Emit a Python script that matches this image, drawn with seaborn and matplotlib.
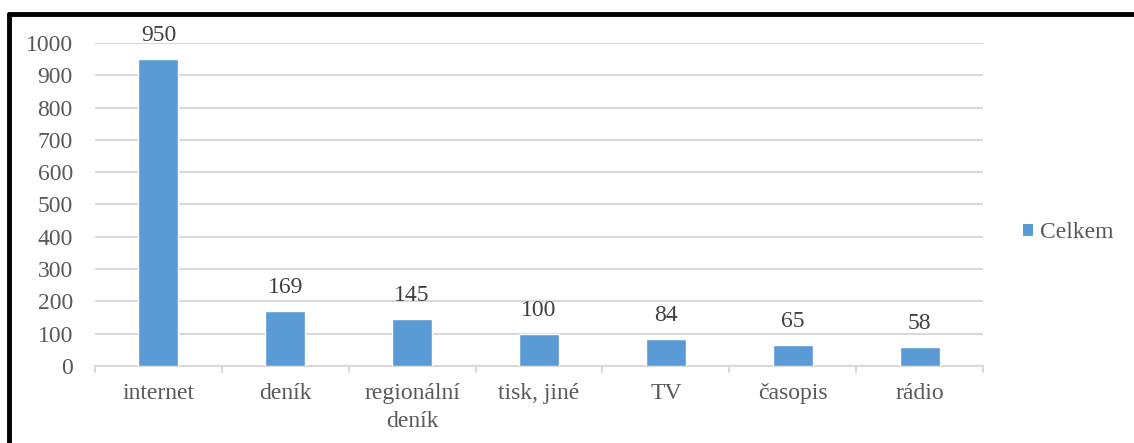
import matplotlib
matplotlib.use("Agg")
import matplotlib.pyplot as plt
from matplotlib.lines import Line2D
from matplotlib.patches import Patch
import seaborn as sns
import pandas as pd

categories = ["internet", "deník", "regionální\ndeník", "tisk, jiné", "TV", "časopis", "rádio"]
values = [950, 169, 145, 100, 84, 65, 58]
series_name = "Celkem"
y_ticks = [0, 100, 200, 300, 400, 500, 600, 700, 800, 900, 1000]

bar_color = "#5B9BD5"
text_color = "#595959"
grid_color = "#D9D9D9"

sns.set_style("white")
plt.rcParams["font.family"] = ["Liberation Serif", "DejaVu Serif"]

df = pd.DataFrame({"kategorie": categories, "pocet": values})

fig = plt.figure(figsize=(11.34, 4.43), dpi=100)
ax = fig.add_axes([0.0838, 0.1738, 0.7830, 0.7292])

sns.barplot(data=df, x="kategorie", y="pocet", color=bar_color, width=0.315,
            saturation=1, ax=ax, zorder=3)

ax.set_ylim(0, 1000)
ax.set_xlim(-0.5, len(categories) - 0.5)
ax.set_yticks(y_ticks)
ax.yaxis.grid(True, color=grid_color, linewidth=1.5, zorder=0)
ax.set_axisbelow(True)
ax.set_xlabel("")
ax.set_ylabel("")

for s in ["top", "right", "left"]:
    ax.spines[s].set_visible(False)
ax.spines["bottom"].set_color(grid_color)
ax.spines["bottom"].set_linewidth(1.5)

ax.tick_params(axis="y", length=0, labelsize=17, labelcolor=text_color, pad=16)
ax.tick_params(axis="x", length=0, labelsize=17, labelcolor=text_color, pad=12)
for lbl in ax.get_xticklabels():
    lbl.set_linespacing(1.45)

# tick marks at the category boundaries
for b in range(len(categories) + 1):
    ax.plot([b - 0.5, b - 0.5], [0, -0.018], transform=ax.get_xaxis_transform(),
            color=grid_color, linewidth=1.5, clip_on=False)

for i, v in enumerate(values):
    ax.text(i, v + 40, str(v), ha="center", va="bottom", fontsize=17, color="#404040")

handle = Patch(facecolor=bar_color, edgecolor="none")
leg = fig.legend([handle], [series_name], loc="center left", bbox_to_anchor=(0.8836, 0.475),
                 frameon=False, fontsize=17, handlelength=0.42, handleheight=0.42,
                 handletextpad=0.3, labelcolor=text_color)

# chart frame
fig.add_artist(Line2D([0.0075, 1.0], [0.9695, 0.9695], color="black", linewidth=3.5,
                      transform=fig.transFigure))
fig.add_artist(Line2D([0.0075, 0.0075], [0.0, 0.9695], color="black", linewidth=3.5,
                      transform=fig.transFigure))

fig.savefig("out.png", dpi=100)
